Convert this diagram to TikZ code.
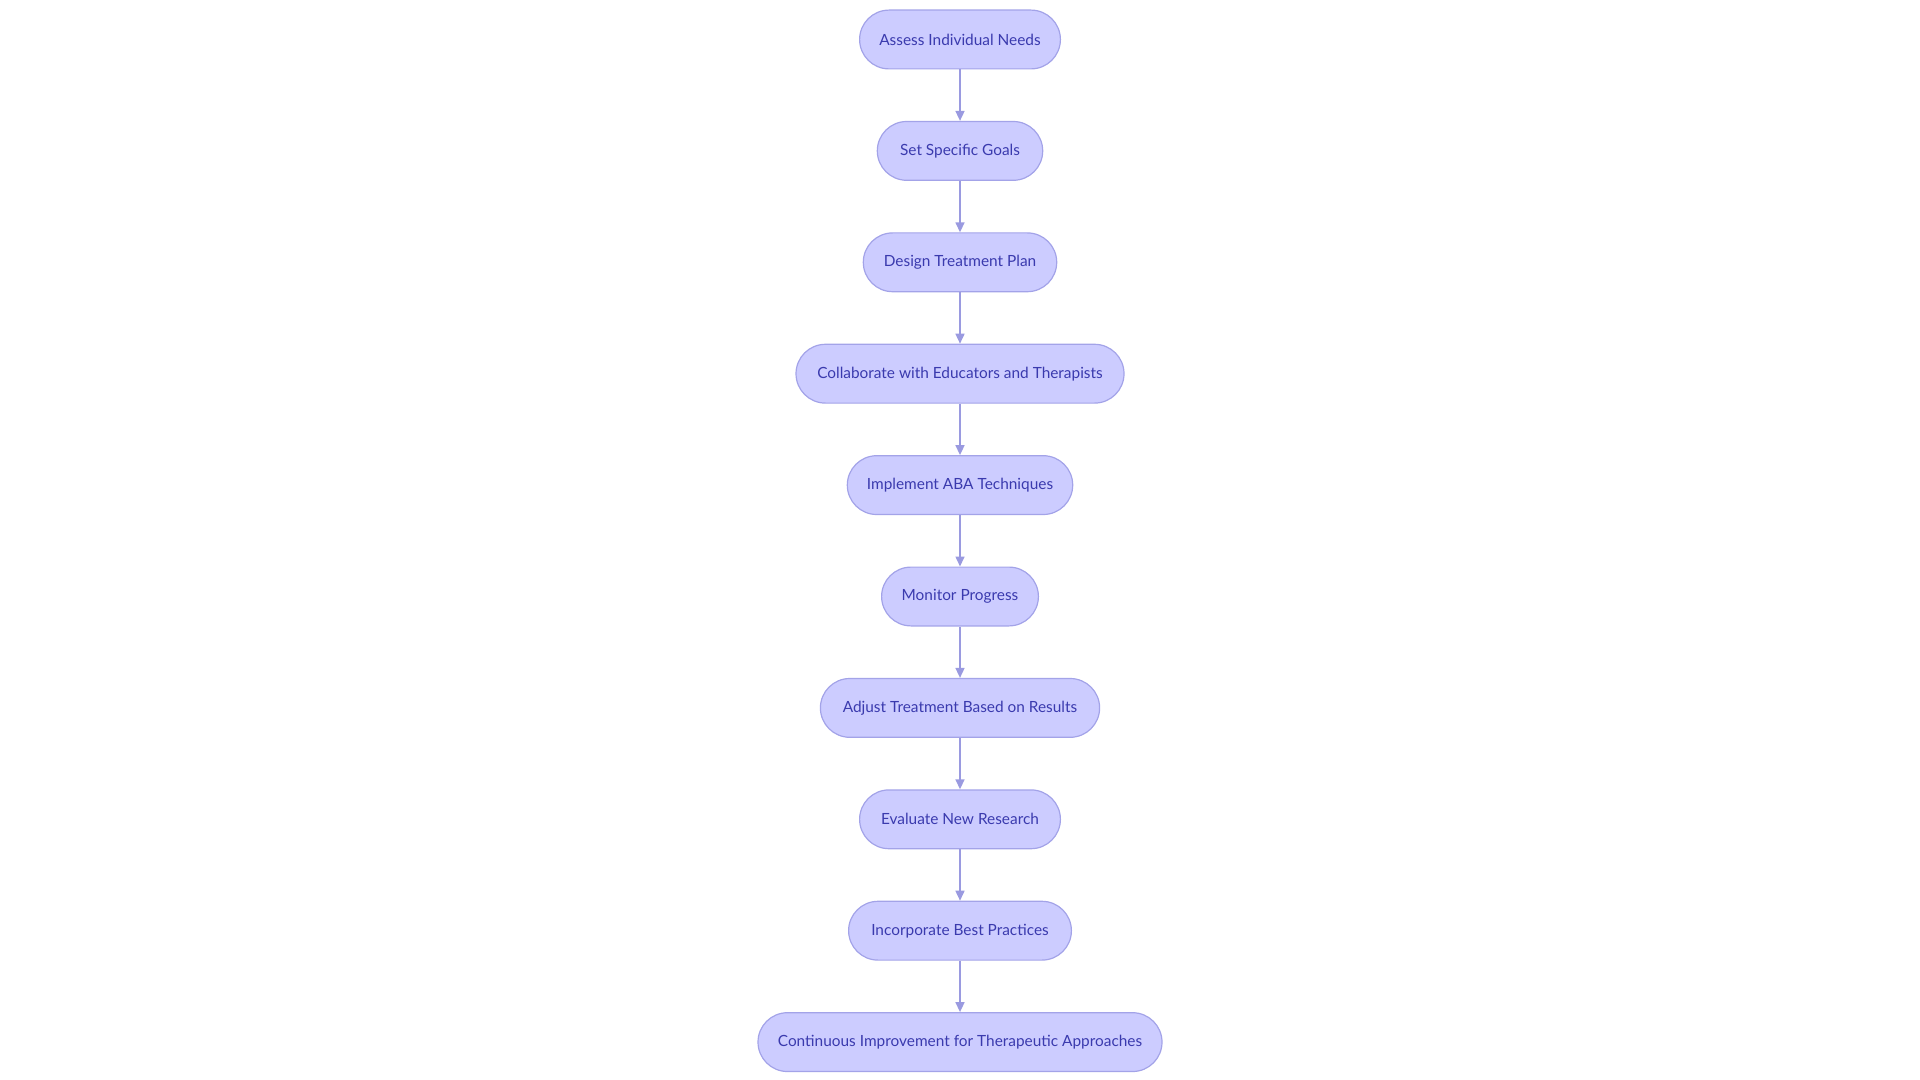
\documentclass[tikz,border=0pt]{standalone}
\usepackage{fontspec}
\setmainfont{Lato}
\usetikzlibrary{arrows.meta}
\definecolor{nfill}{HTML}{CCCCFF}
\definecolor{nline}{HTML}{A3A3E8}
\definecolor{ntext}{HTML}{3A3AAE}
\definecolor{aline}{HTML}{9A9AE0}
\tikzset{
 box/.style={draw=nline,fill=nfill,line width=0.6pt,rounded corners=14.7pt,minimum height=29.4pt,inner sep=0pt,text=ntext,font=\fontsize{7.7}{9}\selectfont},
 arr/.style={draw=aline,line width=0.8pt,-{Triangle[length=5pt,width=4.5pt]}}
}
\begin{document}
\begin{tikzpicture}[x=0.5pt,y=-0.5pt]
\useasboundingbox (0,0) rectangle (1920,1080);
\def\st{111.4}
\node[box,minimum width=100.4pt] (n1) at (960,39.5) {Assess Individual Needs};
\node[box,minimum width=82.7pt] (n2) at (960,39.5+\st) {Set Specific Goals};
\node[box,minimum width=96.7pt] (n3) at (960,39.5+2*\st) {Design Treatment Plan};
\node[box,minimum width=164pt] (n4) at (960,39.5+3*\st) {Collaborate with Educators and Therapists};
\node[box,minimum width=112.7pt] (n5) at (960,39.5+4*\st) {Implement ABA Techniques};
\node[box,minimum width=78.4pt] (n6) at (960,39.5+5*\st) {Monitor Progress};
\node[box,minimum width=139.6pt] (n7) at (960,39.5+6*\st) {Adjust Treatment Based on Results};
\node[box,minimum width=100.4pt] (n8) at (960,39.5+7*\st) {Evaluate New Research};
\node[box,minimum width=111.4pt] (n9) at (960,39.5+8*\st) {Incorporate Best Practices};
\node[box,minimum width=202pt] (n10) at (960,39.5+9*\st) {Continuous Improvement for Therapeutic Approaches};
\foreach \a/\b in {n1/n2,n2/n3,n3/n4,n4/n5,n5/n6,n6/n7,n7/n8,n8/n9,n9/n10}
  \draw[arr] (\a) -- (\b);
\end{tikzpicture}
\end{document}
